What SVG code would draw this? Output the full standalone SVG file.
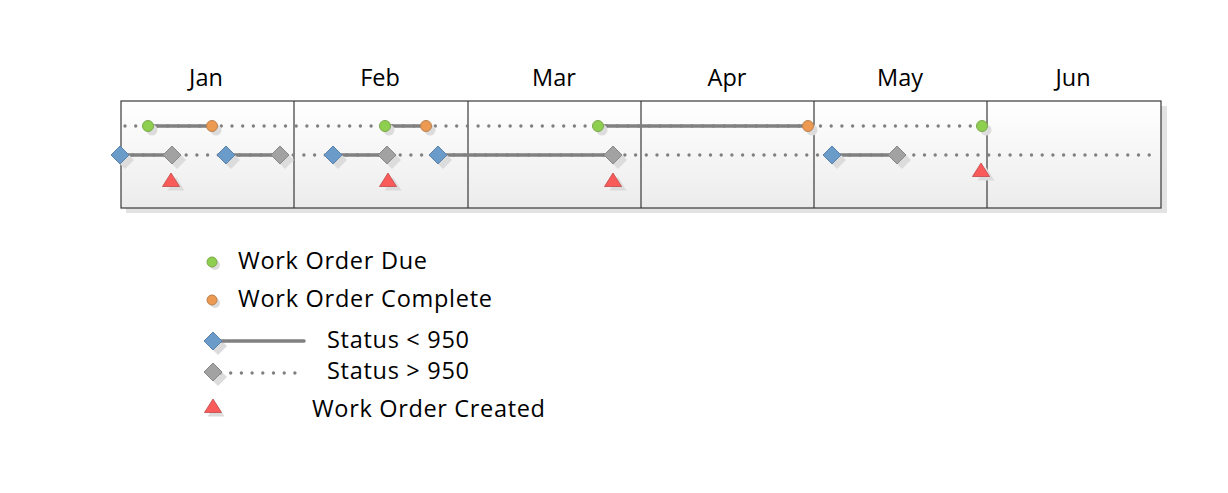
<svg xmlns="http://www.w3.org/2000/svg" width="1228" height="493" viewBox="0 0 1228 493">
<defs>
<linearGradient id="bg" x1="0" y1="0" x2="0" y2="1">
<stop offset="0" stop-color="#ffffff"/>
<stop offset="1" stop-color="#ececec"/>
</linearGradient>
<g id="dia"><path d="M0,-9 L9,0 L0,9 L-9,0 Z"/></g>
<g id="tri"><path d="M0,-7 L8.5,6.5 L-8.5,6.5 Z"/></g>
</defs>
<style>
text{font-family:"Open Sans","Noto Sans","DejaVu Sans",sans-serif;font-size:23.5px;fill:#000}
.month{text-anchor:middle}
.solid{stroke:#808080;stroke-width:3.5;fill:none}
.dot{stroke:#808080;stroke-width:3.4;stroke-linecap:round;stroke-dasharray:0 10.7;fill:none}
.sh{fill:#dcdcdc;stroke:none}
.green{fill:#8fcf4f;stroke:#7aa84a;stroke-width:1}
.orange{fill:#ec9a52;stroke:#b98150;stroke-width:1}
.blue{fill:#6b9bc9;stroke:#5a82aa;stroke-width:1}
.gray{fill:#a2a2a2;stroke:#888;stroke-width:1}
.red{fill:#f95a5a;stroke:#c04848;stroke-width:0.8}
.frame{fill:none;stroke:#3a3a3a;stroke-width:1.2}
</style>

<g id="chart">
<rect x="1161" y="106" width="6" height="107" fill="#e3e3e3"/>
<rect x="126" y="208" width="1041" height="5" fill="#e3e3e3"/>
<rect x="121" y="101" width="1040" height="107" fill="url(#bg)"/>
<rect x="121" y="101" width="1040" height="107" class="frame"/>
<path d="M294,101V208M468,101V208M641,101V208M814,101V208M987,101V208" class="frame"/>
</g>

<g id="months">
<text class="month" x="206" y="86">Jan</text>
<text class="month" x="380" y="86">Feb</text>
<text class="month" x="554" y="86">Mar</text>
<text class="month" x="727" y="86">Apr</text>
<text class="month" x="900" y="86">May</text>
<text class="month" x="1073" y="86">Jun</text>
</g>

<g id="connectors">
<path class="dot" d="M125,126H982"/>
<path class="solid" d="M148,126H212M385,126H426M598,126H808"/>
<path class="dot" d="M122,155H1156"/>
<path class="solid" d="M120,155H172M226,155H280M333,155H387M438,155H613M832,155H897"/>
</g>

<g id="due-complete">
<g class="sh">
<circle cx="152" cy="130" r="5.5"/><circle cx="216" cy="130" r="5.5"/>
<circle cx="389" cy="130" r="5.5"/><circle cx="430" cy="130" r="5.5"/>
<circle cx="602" cy="130" r="5.5"/><circle cx="812" cy="130" r="5.5"/>
<circle cx="986" cy="130" r="5.5"/>
</g>
<circle class="green" cx="148" cy="126" r="5.5"/>
<circle class="orange" cx="212" cy="126" r="5.5"/>
<circle class="green" cx="385" cy="126" r="5.5"/>
<circle class="orange" cx="426" cy="126" r="5.5"/>
<circle class="green" cx="598" cy="126" r="5.5"/>
<circle class="orange" cx="808" cy="126" r="5.5"/>
<circle class="green" cx="982" cy="126" r="5.5"/>
</g>

<g id="status">
<g class="sh">
<use href="#dia" x="125" y="160"/><use href="#dia" x="177" y="160"/>
<use href="#dia" x="231" y="160"/><use href="#dia" x="285" y="160"/>
<use href="#dia" x="338" y="160"/><use href="#dia" x="392" y="160"/>
<use href="#dia" x="443" y="160"/><use href="#dia" x="618" y="160"/>
<use href="#dia" x="837" y="160"/><use href="#dia" x="902" y="160"/>
</g>
<use href="#dia" class="blue" x="120" y="155"/>
<use href="#dia" class="gray" x="172" y="155"/>
<use href="#dia" class="blue" x="226" y="155"/>
<use href="#dia" class="gray" x="280" y="155"/>
<use href="#dia" class="blue" x="333" y="155"/>
<use href="#dia" class="gray" x="387" y="155"/>
<use href="#dia" class="blue" x="438" y="155"/>
<use href="#dia" class="gray" x="613" y="155"/>
<use href="#dia" class="blue" x="832" y="155"/>
<use href="#dia" class="gray" x="897" y="155"/>
</g>

<g id="created">
<g class="sh">
<use href="#tri" x="176" y="184"/><use href="#tri" x="393" y="184"/>
<use href="#tri" x="618" y="184"/><use href="#tri" x="986" y="174"/>
</g>
<use href="#tri" class="red" x="171" y="180"/>
<use href="#tri" class="red" x="388" y="180"/>
<use href="#tri" class="red" x="613" y="180"/>
<use href="#tri" class="red" x="981" y="170"/>
</g>

<g id="legend">
<circle class="sh" cx="215" cy="265" r="5"/>
<circle class="green" cx="212" cy="262" r="5"/>
<text x="238" y="269" textLength="189" lengthAdjust="spacing">Work Order Due</text>
<circle class="sh" cx="215" cy="303" r="5"/>
<circle class="orange" cx="212" cy="300" r="5"/>
<text x="238" y="307" textLength="254" lengthAdjust="spacing">Work Order Complete</text>
<use href="#dia" class="sh" x="218" y="346"/>
<path class="solid" d="M213,341H304" stroke-linecap="round"/>
<use href="#dia" class="blue" x="213" y="341"/>
<text x="327" y="348" textLength="142" lengthAdjust="spacing">Status &lt; 950</text>
<use href="#dia" class="sh" x="218" y="377"/>
<path class="dot" d="M220,373H297"/>
<use href="#dia" class="gray" x="213" y="372"/>
<text x="327" y="379" textLength="142" lengthAdjust="spacing">Status &gt; 950</text>
<use href="#tri" class="sh" x="216" y="410"/>
<use href="#tri" class="red" x="213" y="406"/>
<text x="312" y="417" textLength="233" lengthAdjust="spacing">Work Order Created</text>
</g>
</svg>
